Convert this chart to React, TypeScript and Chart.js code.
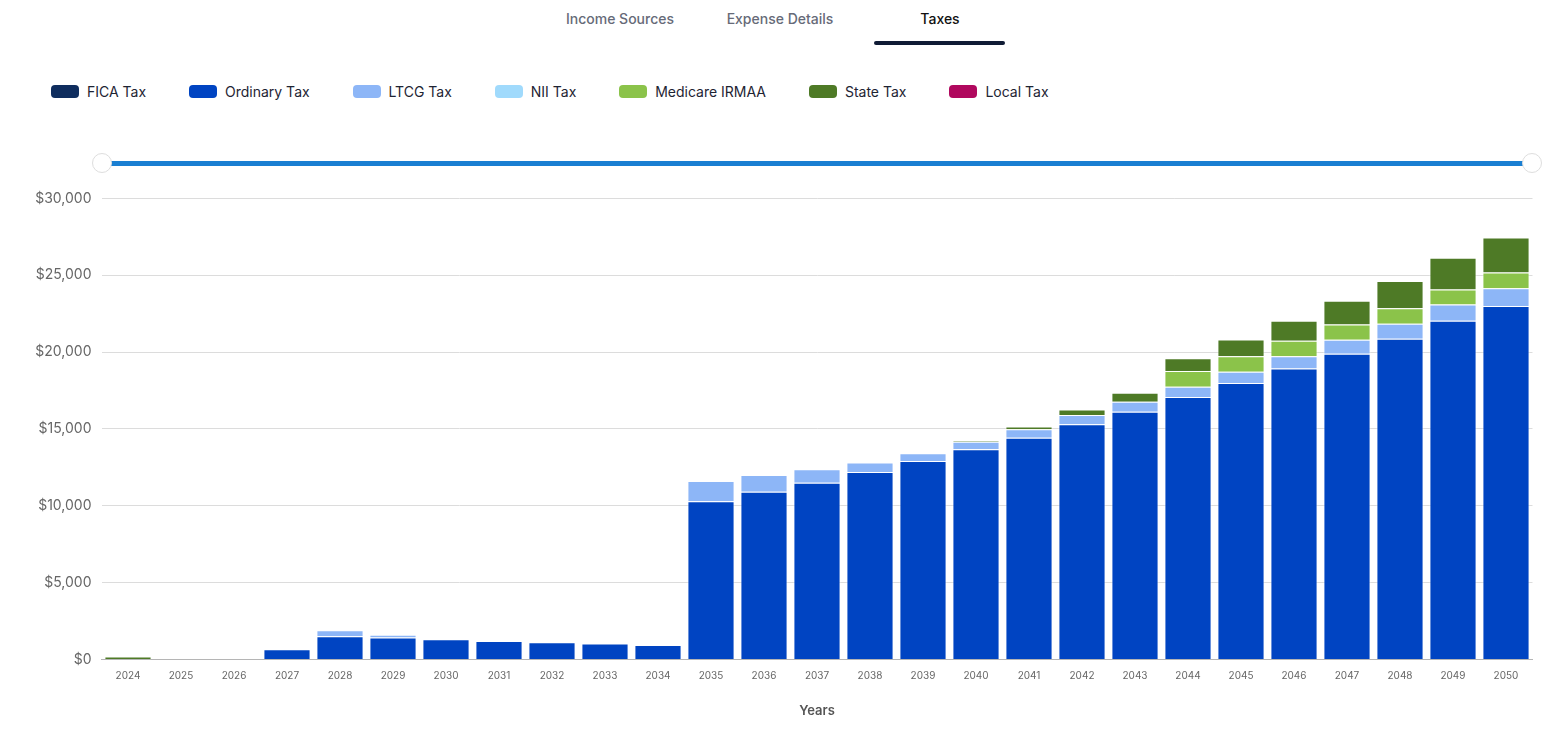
import React, { useEffect, useRef } from "react";
import { Chart, registerables } from "chart.js";

Chart.register(...registerables);

const years = ["2024","2025","2026","2027","2028","2029","2030","2031","2032","2033","2034","2035","2036","2037","2038","2039","2040","2041","2042","2043","2044","2045","2046","2047","2048","2049","2050"];

const ficaTax = [0,0,0,0,0,0,0,0,0,0,0,0,0,0,0,0,0,0,0,0,0,0,0,0,0,0,0];
const ordinaryTax = [0,0,0,660,1510,1420,1310,1200,1120,1030,940,10290,10910,11500,12190,12910,13670,14420,15310,16110,17070,17980,18930,19890,20870,22040,22990];
const ltcgTax = [0,0,0,0,390,190,0,0,0,0,0,1320,1090,870,630,500,490,550,590,650,680,740,800,910,975,1060,1170];
const niiTax = [0,0,0,0,0,0,0,0,0,0,0,0,0,0,0,0,0,0,0,0,0,0,0,0,0,0,0];
const medicareIrmaa = [0,0,0,0,0,0,0,0,0,0,0,0,0,0,0,0,0,0,0,0,1010,1000,1000,1000,1000,975,1020];
const stateTax = [190,0,0,0,0,0,0,0,0,0,0,0,0,0,0,0,60,190,370,590,830,1090,1300,1540,1780,2060,2280];
const localTax = [0,0,0,0,0,0,0,0,0,0,0,0,0,0,0,0,0,0,0,0,0,0,0,0,0,0,0];

const seriesNames = ["FICA Tax","Ordinary Tax","LTCG Tax","NII Tax","Medicare IRMAA","State Tax","Local Tax"];
const seriesColors = ["#0f2d5e","#0044c2","#8db6f7","#a0dafc","#8bc34a","#4e7a26","#b0085e"];
const seriesData = [ficaTax, ordinaryTax, ltcgTax, niiTax, medicareIrmaa, stateTax, localTax];

const tabs = ["Income Sources","Expense Details","Taxes"];
const tabCenters = [620, 780, 940];

const FONT = "Inter, 'Noto Sans', sans-serif";

export default function App() {
  const canvasRef = useRef<HTMLCanvasElement | null>(null);

  useEffect(() => {
    document.body.style.overflow = "hidden";
    const ctx = canvasRef.current;
    if (!ctx) return;
    const chart = new Chart(ctx, {
      type: "bar",
      data: {
        labels: years,
        datasets: seriesNames.map((name, i) => ({
          label: name,
          data: seriesData[i],
          backgroundColor: seriesColors[i],
          borderColor: "rgba(255,255,255,0.55)",
          borderWidth: 1,
          barPercentage: 0.89,
          categoryPercentage: 1.0,
          stack: "taxes",
        })),
      },
      options: {
        animation: false,
        responsive: false,
        maintainAspectRatio: false,
        layout: { padding: { left: 8, right: 27.5, top: 17, bottom: 12 } },
        plugins: {
          legend: { display: false },
          tooltip: { enabled: false },
        },
        scales: {
          x: {
            stacked: true,
            grid: { display: false, drawTicks: false },
            border: { display: true, color: "#b5b5b5" },
            ticks: { color: "#666", font: { family: FONT, size: 10 }, padding: 11, maxRotation: 0, autoSkip: false },
            title: { display: true, text: "Years", color: "#555", font: { family: FONT, size: 13, weight: 600 }, padding: { top: 10, bottom: 4 } },
          },
          y: {
            stacked: true,
            min: 0,
            max: 30000,
            grid: { color: "#dcdcdc", drawTicks: false },
            border: { display: false },
            ticks: {
              stepSize: 5000,
              color: "#666",
              padding: 10,
              font: { family: FONT, size: 14 },
              callback: (v: any) => "$" + Number(v).toLocaleString("en-US"),
            },
            afterFit: (scale: any) => { scale.width = 93.5; },
          },
        },
      },
    });
    return () => chart.destroy();
  }, []);

  return (
    <div style={{ position: "absolute", left: 0, top: 0, width: 1560, height: 735, fontFamily: FONT, background: "#fff", overflow: "hidden" }}>
      {tabs.map((t, i) => (
        <div key={t} style={{ position: "absolute", top: 9, left: tabCenters[i] - 80, width: 160, textAlign: "center", fontSize: 14, lineHeight: "20px", fontWeight: 500, color: i === 2 ? "#111" : "#666a78" }}>{t}</div>
      ))}
      <div style={{ position: "absolute", left: 874, top: 41, width: 131, height: 4, background: "#0f1b35", borderRadius: 2 }} />
      <div style={{ position: "absolute", left: 51, top: 81.5, display: "flex", alignItems: "center", gap: 42.9 }}>
        {seriesNames.map((n, i) => (
          <div key={n} style={{ display: "flex", alignItems: "center", height: 20 }}>
            <div style={{ width: 28, height: 13, borderRadius: 4, background: seriesColors[i], marginRight: 8 }} />
            <span style={{ fontSize: 14, color: "#1e2433", whiteSpace: "nowrap" }}>{n}</span>
          </div>
        ))}
      </div>
      <div style={{ position: "absolute", left: 104, top: 160.5, width: 1420, height: 5, background: "#1a7fd2" }} />
      <div style={{ position: "absolute", left: 92, top: 153, width: 18, height: 18, borderRadius: "50%", background: "#fff", border: "1px solid #dedede" }} />
      <div style={{ position: "absolute", left: 1522, top: 153, width: 18, height: 18, borderRadius: "50%", background: "#fff", border: "1px solid #dedede" }} />
      <canvas ref={canvasRef} width={1560} height={555} style={{ position: "absolute", left: 0, top: 180, width: 1560, height: 555 }} />
    </div>
  );
}
